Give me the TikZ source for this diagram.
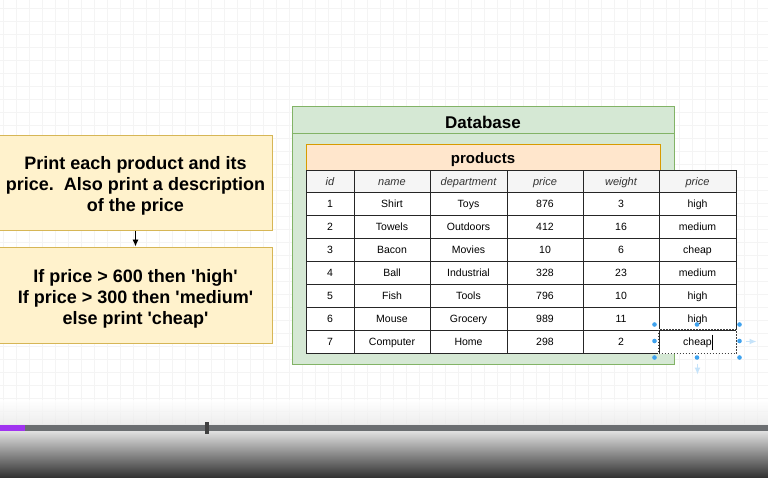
\documentclass[tikz,border=0pt]{standalone}
\usepackage{fontspec}
\setmainfont{Liberation Sans}
\usetikzlibrary{arrows.meta,positioning,calc}
\definecolor{NoteFill}{HTML}{FFF2CC}
\definecolor{NoteLine}{HTML}{D6B656}
\definecolor{DbFill}{HTML}{D5E8D4}
\definecolor{DbLine}{HTML}{82B366}
\definecolor{TblFill}{HTML}{FFE6CC}
\definecolor{TblLine}{HTML}{D79B00}
\definecolor{HeadFill}{HTML}{F5F5F5}
\definecolor{GridLine}{HTML}{F4F4F4}
\definecolor{BarGrey}{HTML}{6B6E71}
\definecolor{BarPlay}{HTML}{A033F0}
\definecolor{SelBlue}{HTML}{3FA2EE}
\newcommand{\sq}{\textquotesingle}

\begin{document}
\begin{tikzpicture}[x=1pt, y=-1pt, >={Latex[length=7pt,width=6pt]}, line width=1pt]
  \useasboundingbox (0,0) rectangle (768,477);
  \fill[white] (0,0) rectangle (768,477);
  % canvas grid
  \foreach \gx in {3,16,...,768} \draw[GridLine, line width=0.5pt] (\gx,0) -- (\gx,425);
  \foreach \gy in {8,21,...,425} \draw[GridLine, line width=0.5pt] (0,\gy) -- (768,\gy);

  % task notes
  \node[draw=NoteLine,fill=NoteFill,minimum width=273,minimum height=95] (desc) at (135.5,182.5) {};
  \node[align=center,font=\bfseries\fontsize{18}{21}\selectfont] (descText) at ($(desc)+(0,3.5)$)
        {Print each product and its\\price.\ \ Also print a description\\of the price};
  \node[draw=NoteLine,fill=NoteFill,minimum width=273,minimum height=96] (rules) at (135.5,295) {};
  \node[align=center,font=\bfseries\fontsize{18}{21}\selectfont] (rulesText) at ($(rules)+(0,3.5)$)
        {If price > 600 then \sq high\sq\\If price > 300 then \sq medium\sq\\else print \sq cheap\sq};
  \draw[->,line width=0.9pt] (desc) -- (rules);

  % database container
  \node[draw=DbLine,fill=DbFill,minimum width=382,minimum height=258] (db) at (483,235) {};
  \node[font=\bfseries\fontsize{17}{20}\selectfont] (dbtitle) at (483,122) {Database};
  \draw[DbLine] ($(db.north west)+(0,28)$) -- ($(db.north east)+(0,28)$);
  \node[draw=TblLine,fill=TblFill,minimum width=354,minimum height=26,text height=13,text depth=1,
        font=\bfseries\fontsize{15}{18}\selectfont] (products) at (483,157) {products};

  % table
  \foreach \txt [count=\k] in {id,name,department,price,weight,price} {
    \pgfmathsetmacro\cx{{330,392,468.5,545,621,697.5}[\k-1]}
    \pgfmathsetmacro\cw{{48,76,77,76,76,77}[\k-1]}
    \node[draw=black!85,fill=HeadFill,minimum width=\cw,minimum height=22,
          inner sep=0pt,text height=9,text depth=0,text=black!80,
          font=\itshape\fontsize{11}{13}\selectfont] (cell-0-\k) at (\cx,181) {\txt};
  }
  \foreach \row [count=\r] in {{1,Shirt,Toys,876,3,high},{2,Towels,Outdoors,412,16,medium},
      {3,Bacon,Movies,10,6,cheap},{4,Ball,Industrial,328,23,medium},{5,Fish,Tools,796,10,high},
      {6,Mouse,Grocery,989,11,high},{7,Computer,Home,298,2,cheap}} {
    \foreach \txt [count=\k] in \row {
      \pgfmathsetmacro\cx{{330,392,468.5,545,621,697.5}[\k-1]}
      \pgfmathsetmacro\cw{{48,76,77,76,76,77}[\k-1]}
      \pgfmathsetmacro\cy{180.5+23*\r}
      \node[draw=black!85,fill=white,minimum width=\cw,minimum height=23,
            inner sep=0pt,text height=9,text depth=0.5,
            font=\fontsize{10.5}{12}\selectfont] (cell-\r-\k) at (\cx,\cy) {\txt};
    }
  }

  % selected cell
  \draw[white,line width=1pt] (cell-7-6.north west) rectangle (cell-7-6.south east);
  \draw[black!75,line width=0.9pt,dash pattern=on 1.5pt off 1.5pt]
    (cell-7-6.north west) rectangle (cell-7-6.south east);
  \draw[line width=0.6pt] ($(cell-7-6.center)+(14.5,-7)$) -- ++(0,15);
  \foreach \sx/\sy in {-4/-5,38.5/-5,81/-5,-4/11.5,81/11.5,-4/28,38.5/28,81/28}
    \fill[SelBlue] ($(cell-7-6.north west)+(\sx,\sy)$) circle (2.3);
  \draw[->,SelBlue!30,line width=1.2pt] ($(cell-7-6.east)+(9,0)$) -- ++(11,0);
  \draw[->,SelBlue!30,line width=1.2pt] ($(cell-7-6.south)+(0,10)$) -- ++(0,11);

  % player bar
  \shade[top color=white,bottom color=white!90!black,opacity=0.7] (0,400) rectangle (768,425);
  \shade[top color=white!88!black,bottom color=black!80] (0,431) rectangle (768,477);
  \fill[BarGrey] (0,425) rectangle (768,431);
  \fill[BarPlay] (0,425) rectangle (24.5,431);
  \fill[black!75] (205,422) rectangle (209,434);
\end{tikzpicture}
\end{document}
